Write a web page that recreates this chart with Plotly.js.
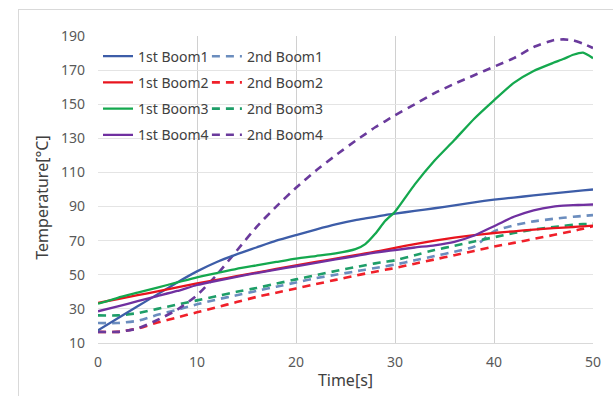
<!DOCTYPE html>
<html><head><meta charset="utf-8">
<script src="https://cdn.plot.ly/plotly-3.0.1.min.js"></script>
<style>
html,body{margin:0;padding:0;background:#fff;}
#chart{width:613px;height:396px;position:relative;}
#frame{position:absolute;left:18px;top:9px;width:700px;height:500px;border-left:1px solid #d9d9d9;border-top:1px solid #d9d9d9;pointer-events:none;}
</style></head>
<body>
<div id="chart"></div>
<div id="frame"></div>
<script>
const time = [0,2,4,6,8,10,12,14,16,18,20,22,24,26,27,28,29,30,32,34,36,38,40,42,44,46,47,48,49,50];
const first1 = [17.4,24.5,31.5,38.5,45.5,52,57.5,62,66,70,73.3,76.5,79.5,82,83,84,85,85.8,87.5,89,90.7,92.5,94,95.3,96.5,97.7,98.3,98.9,99.5,100];
const first2 = [33.5,35.8,38,40.3,42.6,45,47,49.2,51.3,53.4,55.5,57.5,59.5,61.5,62.5,63.5,64.6,65.8,68,70,71.8,73.2,74.5,75.5,76.5,77.3,77.7,78,78.4,78.8];
const first3 = [33,36.5,39.5,42.5,45.5,48.5,51,53.5,55.5,57.5,59.5,61,62.5,65,68,74,81.5,87,103,117,129,141.5,152.3,162.5,169.5,174.3,176.5,179,180.2,177];
const first4 = [28.6,31.5,34.5,37.5,40.5,44,46.5,48.8,51,53,55,57,59,61,62,63,63.8,64.5,66,67.3,69.3,73,78.5,84,87.8,90,90.5,90.8,91,91.2];
const second1 = [21.7,21.7,23,26.5,29.5,32.7,35.5,38,40.5,43,45.5,48,50,52,53,54,55,56,58.5,61,63.5,66.5,75.5,79,81.3,82.8,83.4,84,84.5,85];
const second2 = [16.5,16.5,18.5,22,25,28,31,34,37,39.5,42,44.5,47,49.5,50.7,51.8,52.9,54,56.5,59,61.5,64,66.5,68.7,71,73.3,74.5,75.7,77,78.5];
const second3 = [26.2,26.2,27.5,30,32.5,35,37.5,40,42.2,44.8,47.3,49.8,52.2,54.5,55.6,56.7,57.6,58.5,61.5,64.5,67,69.5,72,74.5,76.5,78,78.7,79.3,79.7,80];
const second4 = [16.5,16.5,18.5,23.5,29.5,38,50,64,78,90,101,111,120,128.5,132.5,136.5,140,143.5,150,156.5,162,167,172,177,183.5,187.5,188,187.5,185.5,183];
const names1 = ['1st Boom1','1st Boom2','1st Boom3','1st Boom4'];
const names2 = ['2nd Boom1','2nd Boom2','2nd Boom3','2nd Boom4'];
const xTicks = [0,10,20,30,40,50];
const yTicks = [10,30,50,70,90,110,130,150,170,190];
const xTitle = 'Time[s]';
const yTitle = 'Temperature[°C]';

const col1 = ['#3D5DA8','#E8141E','#14A84E','#7030A0'];
const col2 = ['#6B8DBE','#F0202A','#1E9E68','#6A3A9C'];
const s1 = [first1,first2,first3,first4];
const s2 = [second1,second2,second3,second4];
const traces = [];
for (let i=0;i<4;i++){
  traces.push({x:time,y:s1[i],name:names1[i],type:'scatter',mode:'lines',legend:'legend',legendgroup:'a'+i,
    line:{color:col1[i],width:2.3,shape:'spline',smoothing:0.5}});
}
for (let i=0;i<4;i++){
  traces.push({x:time,y:s2[i],name:names2[i],type:'scatter',mode:'lines',legend:'legend2',legendgroup:'b'+i,
    line:{color:col2[i],width:2.6,dash:'8px,6px',shape:'spline',smoothing:0.5}});
}
const ordered = traces.slice(4).concat(traces.slice(0,4));
const fnt = '"Noto Sans", "Open Sans", sans-serif';
const layout = {
  width:613,height:396,
  margin:{l:98,r:20,t:36,b:53},
  paper_bgcolor:'#fff',plot_bgcolor:'#fff',
  font:{family:fnt,size:14,color:'#595959'},
  showlegend:true,
  xaxis:{range:[0,50],tickvals:xTicks,showgrid:true,gridcolor:'#d0d0d0',gridwidth:1,zeroline:false,
    showline:true,linecolor:'#d9d9d9',ticks:'',ticklabelstandoff:6,
    tickfont:{size:14,color:'#595959'},
    title:{text:xTitle,font:{size:16,color:'#404040'},standoff:5}},
  yaxis:{range:[10,190],tickvals:yTicks,showgrid:true,gridcolor:'#e4e4e4',gridwidth:1,zeroline:false,
    showline:false,ticks:'',ticklabelstandoff:12,
    tickfont:{size:14,color:'#595959'}},
  annotations:[{text:yTitle,textangle:-90,xref:'paper',yref:'paper',x:-0.1131,y:0.4734,
    xanchor:'center',yanchor:'middle',showarrow:false,font:{size:16,color:'#404040'}}],
  legend:{x:0.0,y:0.985,xanchor:'left',yanchor:'top',bgcolor:'rgba(0,0,0,0)',traceorder:'grouped',tracegroupgap:5,
    font:{size:14,color:'#404040'},itemwidth:30},
  legend2:{x:0.22,y:0.985,xanchor:'left',yanchor:'top',bgcolor:'rgba(0,0,0,0)',traceorder:'grouped',tracegroupgap:5,
    font:{size:14,color:'#404040'},itemwidth:30}
};
Plotly.newPlot('chart',ordered,layout,{displayModeBar:false,staticPlot:true});
</script>
</body></html>
